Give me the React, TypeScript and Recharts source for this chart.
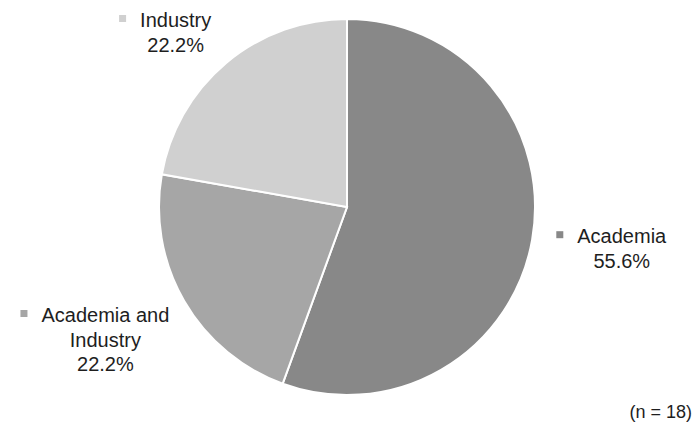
import React from "react";
import { PieChart, Pie, Cell } from "recharts";

const categories = ["Academia", "Academia and Industry", "Industry"];
const values = [10, 4, 4];
const percentLabels = ["55.6%", "22.2%", "22.2%"];
const labelLines = [["Academia"], ["Academia and", "Industry"], ["Industry"]];
const colors = ["#888888", "#a6a6a6", "#d0d0d0"];
const sampleNote = "(n = 18)";

const data = categories.map((name, i) => ({ name, value: values[i] }));

const FONT = "'Liberation Sans', Arial, sans-serif";
const FONT_SIZE = 20;
const LINE_H = 24.5;

const W: Record<string, number> = {
  A: 667, c: 500, a: 556, d: 556, e: 556, m: 833, i: 222, " ": 278, n: 556,
  I: 278, u: 556, s: 500, t: 278, r: 333, y: 500,
};
const textWidth = (s: string) =>
  s.split("").reduce((acc, ch) => acc + (W[ch] ?? 556), 0) * FONT_SIZE / 1000;

const RADIAN = Math.PI / 180;

const renderLabel = (props: any) => {
  const { cx, cy, midAngle, outerRadius, index } = props;
  const r = outerRadius + 91;
  let x = cx + r * Math.cos(-midAngle * RADIAN);
  let y = cy + r * Math.sin(-midAngle * RADIAN);
  const lines = [...labelLines[index], percentLabels[index]];
  const n = lines.length;
  let firstBaseline = y - ((n - 1) * LINE_H) / 2;
  if (firstBaseline < 27) {
    firstBaseline = 27;
    x += 8;
  }
  const w0 = textWidth(lines[0]);
  const markerRight = x - w0 / 2 - 14;
  return (
    <g key={`lbl-${index}`}>
      <rect
        x={markerRight - 7}
        y={firstBaseline - 12}
        width={7}
        height={7}
        fill={colors[index]}
      />
      {lines.map((t, i) => (
        <text
          key={i}
          x={x}
          y={firstBaseline + i * LINE_H}
          textAnchor="middle"
          fontFamily={FONT}
          fontSize={FONT_SIZE}
          fill="#1e1e1e"
        >
          {t}
        </text>
      ))}
    </g>
  );
};

export default function App() {
  return (
    <div style={{ position: "absolute", left: 0, top: 0, width: 697, height: 425, background: "#fff" }}>
      <PieChart width={697} height={425} margin={{ top: 0, right: 0, bottom: 0, left: 0 }}>
        <Pie
          data={data}
          dataKey="value"
          nameKey="name"
          cx={347}
          cy={207}
          outerRadius={188}
          startAngle={90}
          endAngle={-270}
          stroke="#ffffff"
          strokeWidth={2}
          label={renderLabel}
          labelLine={false}
          isAnimationActive={false}
        >
          {data.map((d, i) => (
            <Cell key={d.name} fill={colors[i]} />
          ))}
        </Pie>
        <text
          x={692}
          y={418}
          textAnchor="end"
          fontFamily={FONT}
          fontSize={18}
          fill="#1e1e1e"
        >
          {sampleNote}
        </text>
      </PieChart>
    </div>
  );
}
